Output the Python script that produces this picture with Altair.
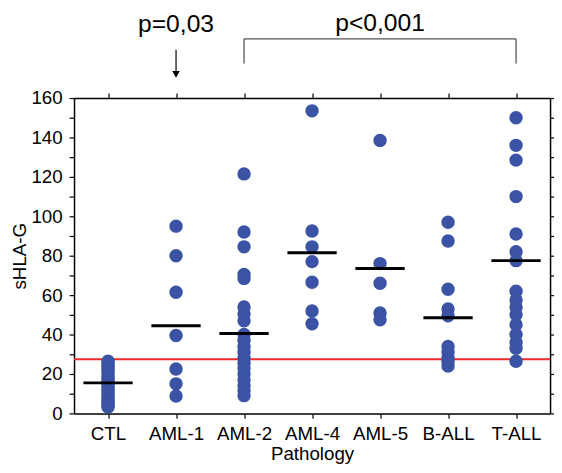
import altair as alt
import pandas as pd

categories = ["CTL", "AML-1", "AML-2", "AML-4", "AML-5", "B-ALL", "T-ALL"]

ctl = [26.5, 25.5, 24, 23, 22, 20.5, 19, 18, 17, 15.5, 14.5, 13, 12, 11, 9.5, 8.5, 7, 6, 5, 4, 3.2]
aml1 = [95, 80, 61.5, 39.5, 22.5, 15, 8.8]
aml2 = [121.5, 92, 84.5, 70.5, 68.5, 54, 50.5, 47, 40, 37, 34, 31, 28, 25.5, 23, 20, 17, 14, 11.5, 9]
aml4 = [153.5, 92.5, 84.5, 77, 66.5, 52, 45.5]
aml5 = [138.5, 76, 66, 51, 47.5]
ball = [97, 87.5, 63, 53, 49.5, 34, 31, 28, 26, 24]
tall = [150, 136, 128.5, 110, 91, 82, 77.5, 62, 57.5, 54, 50, 45, 40, 36, 33, 26.5]

group_values = [ctl, aml1, aml2, aml4, aml5, ball, tall]
means = [15.5, 44.5, 40.5, 81.5, 73.5, 48.5, 77.5]
threshold = 27.5

y_ticks = list(range(0, 161, 10))

FONT = "Liberation Sans"
BLUE = "#3a53a4"

pts = pd.DataFrame([
    {"group": g, "value": v}
    for g, vals in zip(categories, group_values) for v in vals
])
mean_df = pd.DataFrame({"group": categories, "value": means})
thr_df = pd.DataFrame({"value": [threshold]})

xscale = alt.Scale(domain=categories, type="point", padding=0.5)
yscale = alt.Scale(domain=[0, 160], nice=False, zero=False)

axis_common = dict(domainColor="black", domainWidth=1.5, tickColor="black",
                   tickWidth=1.2, tickSize=5, grid=False)

x_bottom = alt.X("group:N", scale=xscale, sort=categories,
                 axis=alt.Axis(title="Pathology", labelAngle=0, orient="bottom",
                               labelPadding=6, titlePadding=2, **axis_common))
y_left = alt.Y("value:Q", scale=yscale,
               axis=alt.Axis(title="sHLA-G", orient="left", values=y_ticks,
                             labelExpr="datum.value % 20 == 0 ? datum.label : ''",
                             labelPadding=7, titlePadding=2, **axis_common))
x_top = alt.X("group:N", scale=xscale, sort=categories,
              axis=alt.Axis(title=None, labels=False, orient="top", **axis_common))
y_right = alt.Y("value:Q", scale=yscale,
                axis=alt.Axis(title=None, labels=False, orient="right",
                              values=y_ticks, **axis_common))

xn = alt.X("group:N", scale=xscale, sort=categories, axis=None)
yn = alt.Y("value:Q", scale=yscale, axis=None)

thr = alt.Chart(thr_df).mark_rule(color="#ee2a2a", strokeWidth=2).encode(
    y=alt.Y("value:Q", scale=yscale, axis=None))

dots = alt.Chart(pts).mark_circle(size=185, color=BLUE, opacity=1).encode(
    x=x_bottom, y=y_left)

mean_ticks = alt.Chart(mean_df).mark_tick(color="black", thickness=3, size=50,
                                          opacity=1).encode(x=x_top, y=y_right)

# annotations above the plot
ann_text = pd.DataFrame({"group": ["AML-1", "AML-5"], "value": [193.5, 194],
                         "label": ["p=0,03", "p<0,001"]})
texts = alt.Chart(ann_text).mark_text(font=FONT, fontSize=25, color="black",
                                      baseline="alphabetic", align="center").encode(
    x=xn, y=yn, text="label:N")

arrow_df = pd.DataFrame({"group": ["AML-1"], "value": [184.5], "value2": [173]})
arrow = alt.Chart(arrow_df).mark_rule(color="black", strokeWidth=1.2).encode(
    x=xn, y=yn, y2="value2:Q")
head_df = pd.DataFrame({"group": ["AML-1"], "value": [172]})
head = alt.Chart(head_df).mark_point(shape="triangle-down", filled=True, size=60,
                                     color="black", opacity=1).encode(x=xn, y=yn)

br_h = pd.DataFrame({"group": ["AML-2"], "group2": ["T-ALL"], "value": [190]})
bracket_h = alt.Chart(br_h).mark_rule(color="#222222", strokeWidth=1).encode(
    x=xn, x2="group2:N", y=yn)
br_v = pd.DataFrame({"group": ["AML-2", "T-ALL"], "value": [190, 190], "value2": [177.5, 177.5]})
bracket_v = alt.Chart(br_v).mark_rule(color="#222222", strokeWidth=1).encode(
    x=xn, y=yn, y2="value2:Q")

chart = alt.layer(
    thr, dots, mean_ticks, texts, arrow, head, bracket_h, bracket_v
).resolve_axis(x="independent", y="independent").properties(
    width=483, height=320,
    autosize=alt.AutoSizeParams(type="none"),
    padding={"left": 67, "top": 88, "right": 4, "bottom": 49},
).configure_view(stroke=None).configure_axis(
    labelFont=FONT, titleFont=FONT, labelFontSize=19, titleFontSize=19,
    labelColor="black", titleColor="black", titleFontWeight="normal",
)

chart.save("out.html", embed_options={"renderer": "svg", "actions": False})
